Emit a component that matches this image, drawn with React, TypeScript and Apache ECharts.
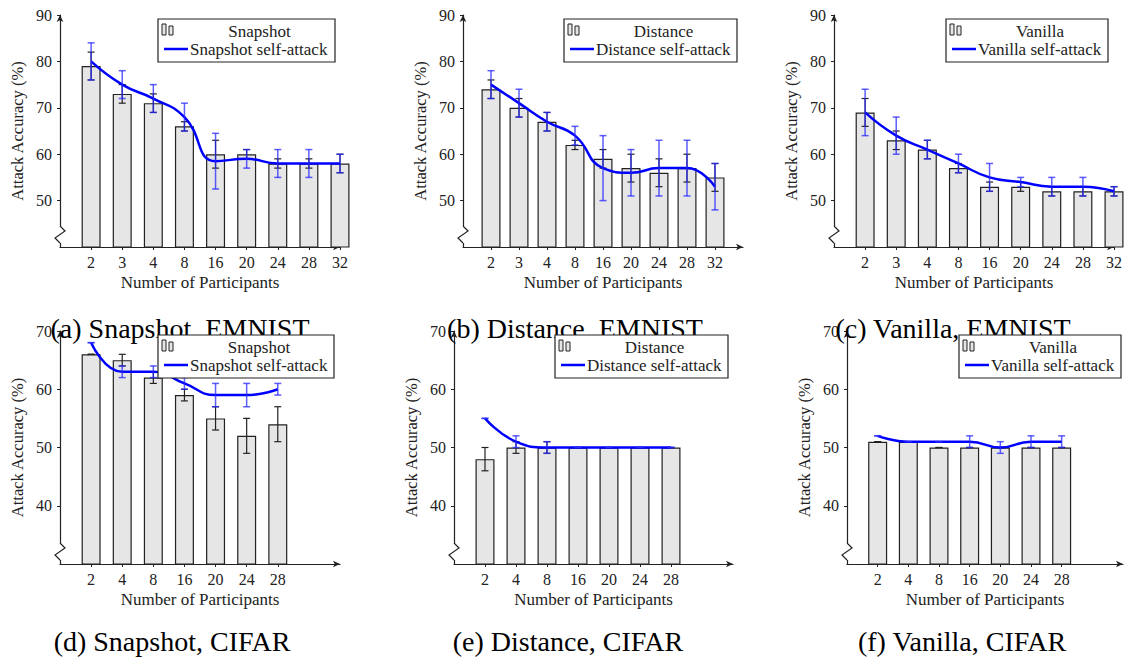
import React, { useEffect, useRef } from 'react';
import * as echarts from 'echarts';

const FONT = "'Liberation Serif', 'Times New Roman', serif";
const TXT = '#222';

// ---------- data ----------
const catsEMNIST = ['2', '3', '4', '8', '16', '20', '24', '28', '32'];
const catsCIFAR = ['2', '4', '8', '16', '20', '24', '28'];

const snapEmnistBar = [79, 73, 71, 66, 60, 60, 58, 58, 58];
const snapEmnistBarErr = [3, 2, 2, 1, 3, 1, 1, 1, 2];
const snapEmnistLine = [80, 75, 72, 68, 58.5, 59, 58, 58, 58];
const snapEmnistLineErr = [4, 3, 3, 3, 6, 2, 3, 3, 2];

const distEmnistBar = [74, 70, 67, 62, 59, 57, 56, 57, 55];
const distEmnistBarErr = [2, 2, 2, 1, 2, 3, 3, 3, 3];
const distEmnistLine = [75, 71, 67, 64, 57, 56, 57, 57, 53];
const distEmnistLineErr = [3, 3, 2, 2, 7, 5, 6, 6, 5];

const vanEmnistBar = [69, 63, 61, 57, 53, 53, 52, 52, 52];
const vanEmnistBarErr = [3, 2, 2, 1, 1, 1, 1, 1, 1];
const vanEmnistLine = [69, 64, 61, 58, 55, 54, 53, 53, 52];
const vanEmnistLineErr = [5, 4, 2, 2, 3, 1, 2, 2, 1];

const snapCifarBar = [66, 65, 62, 59, 55, 52, 54];
const snapCifarBarErr = [0, 1, 1, 1, 2, 3, 3];
const snapCifarLine = [68, 63, 63, 61, 59, 59, 60];
const snapCifarLineErr = [0, 1, 1, 1, 2, 2, 1];

const distCifarBar = [48, 50, 50, 50, 50, 50, 50];
const distCifarBarErr = [2, 1, 1, 0, 0, 0, 0];
const distCifarLine = [55, 51, 50, 50, 50, 50, 50];
const distCifarLineErr = [0, 1, 1, 0, 0, 0, 0];

const vanCifarBar = [51, 51, 50, 50, 50, 50, 50];
const vanCifarBarErr = [0, 0, 0, 0, 0, 0, 0];
const vanCifarLine = [52, 51, 51, 51, 50, 51, 51];
const vanCifarLineErr = [0, 0, 0, 1, 1, 1, 1];

const yTicksEMNIST = [50, 60, 70, 80, 90];
const yTicksCIFAR = [40, 50, 60, 70];

const panels = [
  { cats: catsEMNIST, bar: snapEmnistBar, barErr: snapEmnistBarErr, line: snapEmnistLine, lineErr: snapEmnistLineErr, method: 'Snapshot', caption: '(a) Snapshot, EMNIST', yMin: 40, yMax: 90, yTicks: yTicksEMNIST },
  { cats: catsEMNIST, bar: distEmnistBar, barErr: distEmnistBarErr, line: distEmnistLine, lineErr: distEmnistLineErr, method: 'Distance', caption: '(b) Distance, EMNIST', yMin: 40, yMax: 90, yTicks: yTicksEMNIST },
  { cats: catsEMNIST, bar: vanEmnistBar, barErr: vanEmnistBarErr, line: vanEmnistLine, lineErr: vanEmnistLineErr, method: 'Vanilla', caption: '(c) Vanilla, EMNIST', yMin: 40, yMax: 90, yTicks: yTicksEMNIST },
  { cats: catsCIFAR, bar: snapCifarBar, barErr: snapCifarBarErr, line: snapCifarLine, lineErr: snapCifarLineErr, method: 'Snapshot', caption: '(d) Snapshot, CIFAR', yMin: 30, yMax: 70, yTicks: yTicksCIFAR },
  { cats: catsCIFAR, bar: distCifarBar, barErr: distCifarBarErr, line: distCifarLine, lineErr: distCifarLineErr, method: 'Distance', caption: '(e) Distance, CIFAR', yMin: 30, yMax: 70, yTicks: yTicksCIFAR },
  { cats: catsCIFAR, bar: vanCifarBar, barErr: vanCifarBarErr, line: vanCifarLine, lineErr: vanCifarLineErr, method: 'Vanilla', caption: '(f) Vanilla, CIFAR', yMin: 30, yMax: 70, yTicks: yTicksCIFAR },
];

// ---------- layout ----------
const layout = [
  { left: 60, top: 15, width: 280, height: 232, xMax: 9, lg: [158, 19, 177], cap: [180, 328] },
  { left: 463, top: 15, width: 280, height: 232, xMax: 10, lg: [564, 19, 173], cap: [575, 328] },
  { left: 834, top: 15, width: 280, height: 232, xMax: 9, lg: [946, 19, 162], cap: [953, 328] },
  { left: 60, top: 331, width: 280, height: 233, xMax: 9, lg: [158, 335, 176], cap: [172, 641] },
  { left: 454, top: 331, width: 279, height: 233, xMax: 9, lg: [555, 335, 173], cap: [568, 641] },
  { left: 847, top: 331, width: 276, height: 233, xMax: 9, lg: [959, 335, 162], cap: [962, 641] },
];

function errRender(color: string, lw: number) {
  return (params: any, api: any) => {
    const x = api.value(0);
    const lo = api.value(1);
    const hi = api.value(2);
    const a = api.coord([x, lo]);
    const b = api.coord([x, hi]);
    const hw = 3.5;
    const style = { stroke: color, lineWidth: lw };
    return {
      type: 'group',
      children: [
        { type: 'line', shape: { x1: a[0], y1: a[1], x2: b[0], y2: b[1] }, style },
        { type: 'line', shape: { x1: a[0] - hw, y1: a[1], x2: a[0] + hw, y2: a[1] }, style },
        { type: 'line', shape: { x1: b[0] - hw, y1: b[1], x2: b[0] + hw, y2: b[1] }, style },
      ],
    };
  };
}

function buildOption() {
  const grid: any[] = [];
  const xAxis: any[] = [];
  const yAxis: any[] = [];
  const series: any[] = [];
  const graphic: any[] = [];

  panels.forEach((p, i) => {
    const L = layout[i];
    grid.push({ left: L.left, top: L.top, width: L.width, height: L.height, containLabel: false, outerBoundsMode: 'none' });
    const xVals = p.cats.map((_, k) => k + 1);
    xAxis.push({
      type: 'value',
      gridIndex: i,
      min: 0,
      max: L.xMax,
      interval: 1,
      name: 'Number of Participants',
      nameLocation: 'middle',
      nameGap: 27,
      nameTextStyle: { fontFamily: FONT, fontSize: 17, color: TXT },
      axisLine: { show: true, onZero: false, symbol: ['none', 'arrow'], symbolSize: [5, 7], lineStyle: { color: TXT, width: 1.2 } },
      axisTick: { show: true, length: 3, customValues: xVals, lineStyle: { color: TXT } },
      axisLabel: {
        show: true,
        margin: 7,
        customValues: xVals,
        fontFamily: FONT,
        fontSize: 16,
        color: TXT,
        formatter: (v: number) => p.cats[v - 1] ?? '',
      },
      splitLine: { show: false },
    });
    yAxis.push({
      type: 'value',
      gridIndex: i,
      min: p.yMin,
      max: p.yMax,
      interval: 10,
      name: 'Attack Accuracy (%)',
      nameLocation: 'middle',
      nameGap: 34,
      nameTextStyle: { fontFamily: FONT, fontSize: 16.5, color: TXT },
      axisLine: { show: true, onZero: false, symbol: ['none', 'arrow'], symbolSize: [5, 7], lineStyle: { color: TXT, width: 1.2 } },
      axisTick: { show: true, length: 3, customValues: p.yTicks, lineStyle: { color: TXT } },
      axisLabel: {
        show: true,
        margin: 8,
        customValues: p.yTicks,
        fontFamily: FONT,
        fontSize: 16,
        color: TXT,
        formatter: (v: number) => (v === p.yMin ? '' : String(v)),
      },
      splitLine: { show: false },
    });

    series.push({
      type: 'bar',
      name: p.method,
      xAxisIndex: i,
      yAxisIndex: i,
      barWidth: 19,
      clip: true,
      z: 2,
      itemStyle: { color: '#e6e6e6', borderColor: TXT, borderWidth: 1.2 },
      data: p.bar.map((v, k) => [k + 1, v]),
    });
    series.push({
      type: 'custom',
      name: p.method + ' error',
      xAxisIndex: i,
      yAxisIndex: i,
      z: 3,
      renderItem: errRender('#222', 1.2),
      encode: { x: 0, y: [1, 2] },
      data: p.bar.map((v, k) => [k + 1, v - p.barErr[k], v + p.barErr[k]]),
    });
    series.push({
      type: 'line',
      name: p.method + ' self-attack',
      xAxisIndex: i,
      yAxisIndex: i,
      smooth: 0.5,
      showSymbol: false,
      symbol: 'none',
      z: 4,
      lineStyle: { color: '#0000ff', width: 2.5 },
      data: p.line.map((v, k) => [k + 1, v]),
    });
    series.push({
      type: 'custom',
      name: p.method + ' self-attack error',
      xAxisIndex: i,
      yAxisIndex: i,
      z: 5,
      renderItem: errRender('rgba(40,40,255,0.75)', 1.5),
      encode: { x: 0, y: [1, 2] },
      data: p.line.map((v, k) => [k + 1, v - p.lineErr[k], v + p.lineErr[k]]),
    });

    // caption
    graphic.push({
      type: 'text',
      x: L.cap[0],
      y: L.cap[1],
      z: 1,
      style: {
        text: p.caption,
        fontFamily: FONT,
        fontSize: 28,
        fill: '#000',
        textAlign: 'center',
        textVerticalAlign: 'middle',
      },
    });

    // axis break
    const x0 = L.left;
    const yb = L.top + L.height;
    graphic.push({
      type: 'rect',
      z: 100,
      shape: { x: x0 - 2, y: yb - 21, width: 4, height: 17 },
      style: { fill: '#fff' },
    });
    graphic.push({
      type: 'polyline',
      z: 101,
      shape: { points: [[x0, yb - 21], [x0 + 5, yb - 16], [x0 - 5, yb - 9], [x0, yb - 4]] },
      style: { stroke: TXT, lineWidth: 1.2, fill: 'none' },
    });

    // legend
    const [lx, ly, lw] = L.lg;
    const textStart = lx + 32;
    const textEnd = lx + lw - 6;
    graphic.push({
      type: 'group',
      z: 200,
      children: [
        { type: 'rect', z: 200, shape: { x: lx, y: ly, width: lw, height: 43 }, style: { fill: '#fff', stroke: TXT, lineWidth: 1.2 } },
        { type: 'rect', z: 201, shape: { x: lx + 4, y: ly + 5, width: 4, height: 11 }, style: { fill: '#e6e6e6', stroke: TXT, lineWidth: 1 } },
        { type: 'rect', z: 201, shape: { x: lx + 11, y: ly + 7, width: 4, height: 9 }, style: { fill: '#e6e6e6', stroke: TXT, lineWidth: 1 } },
        { type: 'line', z: 201, shape: { x1: lx + 6, y1: ly + 30, x2: lx + 30, y2: ly + 30 }, style: { stroke: '#0000ff', lineWidth: 2.5 } },
        {
          type: 'text', z: 201, x: (textStart + textEnd) / 2, y: ly + 12,
          style: { text: p.method, fontFamily: FONT, fontSize: 17, fill: TXT, textAlign: 'center', textVerticalAlign: 'middle' },
        },
        {
          type: 'text', z: 201, x: textStart, y: ly + 30,
          style: { text: p.method + ' self-attack', fontFamily: FONT, fontSize: 17, fill: TXT, textAlign: 'left', textVerticalAlign: 'middle' },
        },
      ],
    });
  });

  return {
    animation: false,
    backgroundColor: '#fff',
    textStyle: { fontFamily: FONT },
    grid,
    xAxis,
    yAxis,
    series,
    graphic,
  };
}

export default function App() {
  const ref = useRef<HTMLDivElement>(null);
  useEffect(() => {
    if (!ref.current) return;
    const chart = echarts.init(ref.current, undefined, { renderer: 'svg' });
    chart.setOption(buildOption() as any);
    return () => chart.dispose();
  }, []);
  return (
    <div
      ref={ref}
      style={{ position: 'absolute', left: 0, top: 0, width: 1125, height: 658, background: '#fff' }}
    />
  );
}
